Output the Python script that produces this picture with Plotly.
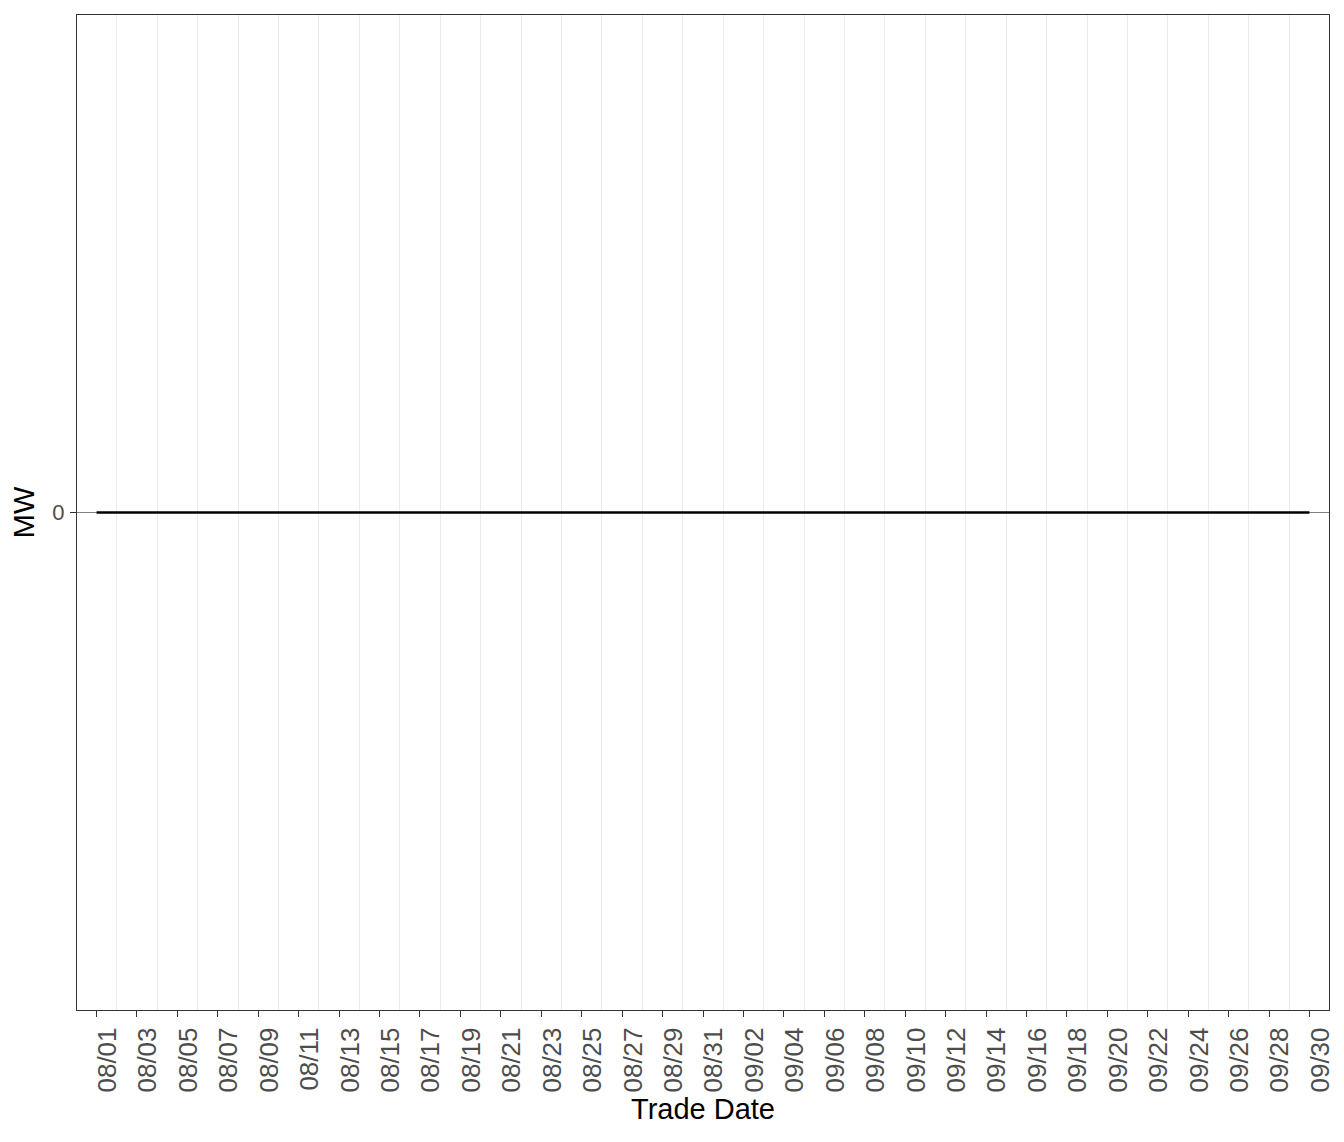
import pandas as pd
import plotly.graph_objects as go

# trade dates (Aug 1 - Sep 30) and net MW per day
trade_dates = pd.date_range("2020-08-01", "2020-09-30", freq="D")
mw = [0, 0, 0, 0, 0, 0, 0, 0, 0, 0,
      0, 0, 0, 0, 0, 0, 0, 0, 0, 0,
      0, 0, 0, 0, 0, 0, 0, 0, 0, 0,
      0, 0, 0, 0, 0, 0, 0, 0, 0, 0,
      0, 0, 0, 0, 0, 0, 0, 0, 0, 0,
      0, 0, 0, 0, 0, 0, 0, 0, 0, 0,
      0]

major_ticks = list(trade_dates[::2])
minor_ticks = list(trade_dates[1::2])
y_ticks = [0]

FONT = "Liberation Sans, Arial, sans-serif"

fig = go.Figure()
fig.add_trace(go.Scatter(
    x=trade_dates,
    y=mw,
    mode="lines",
    line=dict(color="black", width=2.5),
    showlegend=False,
))

# page puts the figure 8px in from the corner, so margins are shifted
fig.update_layout(
    width=1344,
    height=1142,
    margin=dict(l=69, r=23, t=7, b=140),
    paper_bgcolor="white",
    plot_bgcolor="white",
    font=dict(family=FONT, color="black"),
    xaxis=dict(
        range=[pd.Timestamp("2020-08-01") - pd.Timedelta(hours=23.2),
               pd.Timestamp("2020-09-30") + pd.Timedelta(hours=23.2)],
        tickmode="array",
        tickvals=major_ticks,
        tickformat="%m/%d",
        tickangle=-90,
        tickfont=dict(size=26, color="#4D4D4D", family=FONT),
        ticklabelshift=11,
        ticks="outside",
        ticklen=6,
        tickwidth=1.1,
        tickcolor="#333333",
        showgrid=False,
        minor=dict(tickmode="array", tickvals=minor_ticks, showgrid=True,
                   gridcolor="#EBEBEB", gridwidth=1, ticks=""),
        showline=True,
        mirror=True,
        linecolor="#333333",
        linewidth=1.1,
        zeroline=False,
        title=dict(text="Trade Date", font=dict(size=29, family=FONT), standoff=6),
    ),
    yaxis=dict(
        range=[-1, 1],
        tickmode="array",
        tickvals=y_ticks,
        tickfont=dict(size=22, color="#4D4D4D", family=FONT),
        ticks="outside",
        ticklen=6,
        tickwidth=1.1,
        tickcolor="#333333",
        ticklabelstandoff=1,
        showgrid=False,
        zeroline=True,
        zerolinecolor="#808080",
        zerolinewidth=1,
        showline=True,
        mirror=True,
        linecolor="#333333",
        linewidth=1.1,
        title=dict(text="MW", font=dict(size=29, family=FONT), standoff=11),
    ),
)

fig.write_html("out.html")
